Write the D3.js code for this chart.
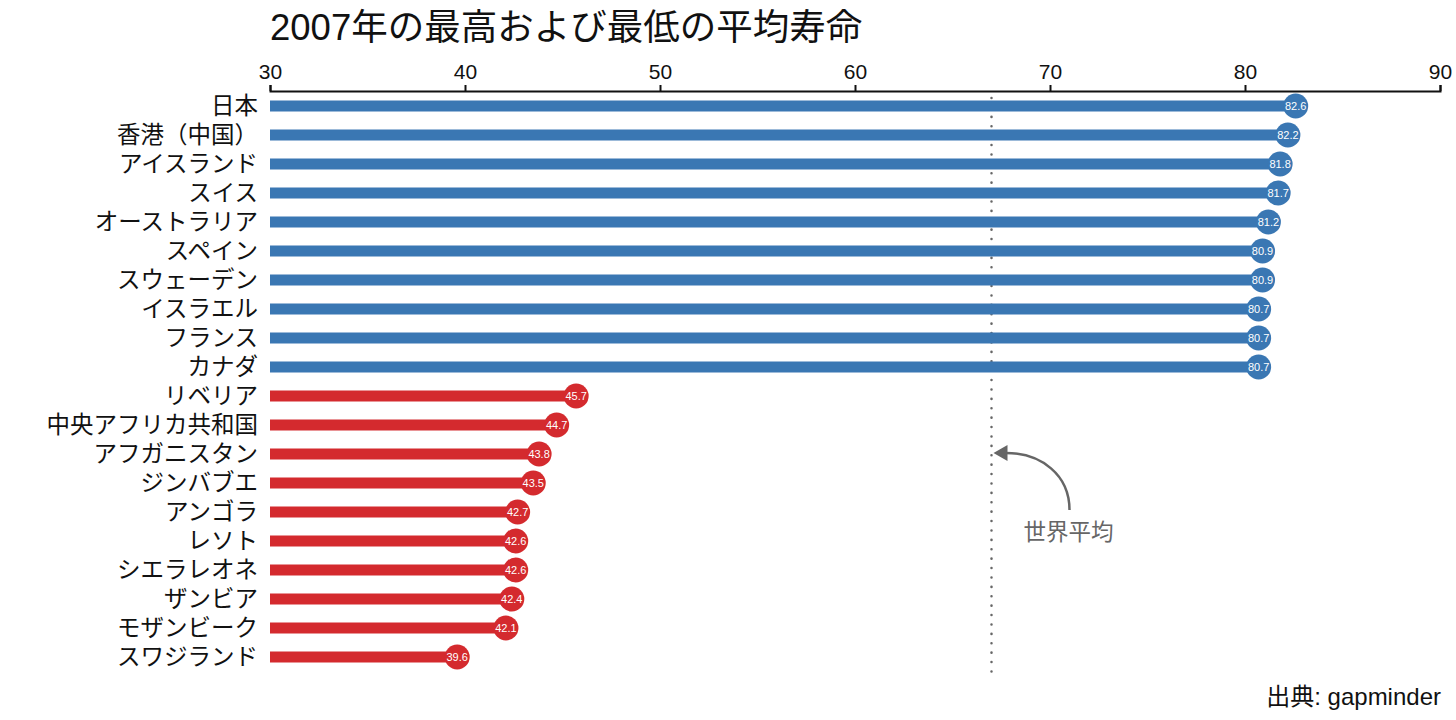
<!DOCTYPE html>
<html>
<head>
<meta charset="utf-8">
<script src="https://cdn.jsdelivr.net/npm/d3@7"></script>
<style>
  body { margin: 0; background: #fff; }
  svg { display: block; }
  .tick text { font-family: "Liberation Sans", Arial, sans-serif; }
</style>
</head>
<body>
<svg id="chart" width="1456" height="720"></svg>
<script>
// data: 2007 life expectancy, highest 10 and lowest 10
const countries = ['日本', '香港（中国）', 'アイスランド', 'スイス', 'オーストラリア', 'スペイン', 'スウェーデン', 'イスラエル', 'フランス', 'カナダ',
  'リベリア', '中央アフリカ共和国', 'アフガニスタン', 'ジンバブエ', 'アンゴラ', 'レソト', 'シエラレオネ', 'ザンビア', 'モザンビーク', 'スワジランド']
const lifeExp = [82.6, 82.2, 81.8, 81.7, 81.2, 80.9, 80.9, 80.7, 80.7, 80.7,
  45.7, 44.7, 43.8, 43.5, 42.7, 42.6, 42.6, 42.4, 42.1, 39.6]
const group = ['high', 'high', 'high', 'high', 'high', 'high', 'high', 'high', 'high', 'high',
  'low', 'low', 'low', 'low', 'low', 'low', 'low', 'low', 'low', 'low']
const xTicks = [30, 40, 50, 60, 70, 80, 90]
const worldAvg = 67.0

const colors = { high: '#3a77b3', low: '#d42a2e' }
const jp = '"Liberation Sans", "Noto Sans CJK JP", sans-serif'

const data = countries.map((c, i) => ({ name: c, value: lifeExp[i], group: group[i] }))

const svg = d3.select('#chart')

const x = d3.scaleLinear()
  .domain([30, 90])
  .range([270, 1440])

const y = d3.scalePoint()
  .domain(countries)
  .range([106, 657])

// title
svg.append('text')
  .attr('x', 270)
  .attr('y', 40)
  .style('font-family', jp)
  .style('font-size', '36.5px')
  .style('fill', '#111')
  .text('2007年の最高および最低の平均寿命')

// top axis
const axis = svg.append('g')
  .attr('transform', 'translate(0,91)')
  .call(d3.axisTop(x).tickValues(xTicks).tickSize(6).tickSizeOuter(6).tickPadding(6))
axis.selectAll('path, line').attr('stroke', '#111').attr('stroke-width', 2)
axis.selectAll('text').style('font-size', '21px').style('fill', '#111')

// world average line
svg.append('line')
  .attr('x1', x(worldAvg)).attr('x2', x(worldAvg))
  .attr('y1', 98).attr('y2', 674)
  .attr('stroke', '#666')
  .attr('stroke-width', 2.5)
  .attr('stroke-linecap', 'round')
  .attr('stroke-dasharray', '0.1 9.3')

// bars
svg.selectAll('rect.bar')
  .data(data)
  .enter().append('rect')
    .attr('class', 'bar')
    .attr('x', x(30))
    .attr('y', d => y(d.name) - 5.5)
    .attr('width', d => x(d.value) - x(30))
    .attr('height', 11)
    .style('fill', d => colors[d.group])

svg.selectAll('circle.dot')
  .data(data)
  .enter().append('circle')
    .attr('class', 'dot')
    .attr('cx', d => x(d.value))
    .attr('cy', d => y(d.name))
    .attr('r', 12.5)
    .style('fill', d => colors[d.group])

svg.selectAll('text.val')
  .data(data)
  .enter().append('text')
    .attr('class', 'val')
    .attr('x', d => x(d.value))
    .attr('y', d => y(d.name))
    .attr('text-anchor', 'middle')
    .attr('dy', '0.35em')
    .style('font-family', '"Liberation Sans", Arial, sans-serif')
    .style('font-size', '11px')
    .style('fill', '#fff')
    .text(d => d.value.toFixed(1))

// country labels
svg.selectAll('text.name')
  .data(data)
  .enter().append('text')
    .attr('class', 'name')
    .attr('x', 258)
    .attr('y', d => y(d.name))
    .attr('dy', '0.36em')
    .attr('text-anchor', 'end')
    .style('font-family', jp)
    .style('font-size', '23.5px')
    .style('fill', '#111')
    .text(d => d.name)

// annotation arrow
const ax = x(worldAvg)
svg.append('path')
  .attr('d', `M${ax + 78},510 C${ax + 78},475 ${ax + 50},453 ${ax + 14},453`)
  .attr('fill', 'none')
  .attr('stroke', '#666')
  .attr('stroke-width', 2.5)
svg.append('path')
  .attr('d', `M${ax + 2},453 L${ax + 16},445 L${ax + 16},461 Z`)
  .attr('fill', '#666')

svg.append('text')
  .attr('x', ax + 32)
  .attr('y', 540)
  .style('font-family', jp)
  .style('font-size', '22.5px')
  .style('fill', '#666')
  .text('世界平均')

// source
svg.append('text')
  .attr('x', 1441)
  .attr('y', 705)
  .attr('text-anchor', 'end')
  .style('font-family', jp)
  .style('font-size', '24px')
  .style('fill', '#111')
  .text('出典: gapminder')
</script>
</body>
</html>
